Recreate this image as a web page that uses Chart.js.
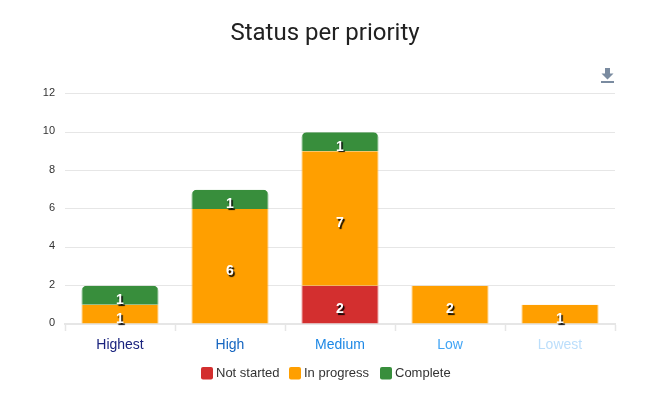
<!DOCTYPE html>
<html><head><meta charset="utf-8">
<style>html,body{margin:0;padding:0;background:#fff}#w{position:relative;width:649px;height:410px}canvas{display:block}
#dl{position:absolute;left:601px;top:68px;width:13px;height:15px}</style>
<script src="https://cdn.jsdelivr.net/npm/chart.js@4"></script></head>
<body><div id="w"><canvas id="c" width="649" height="410"></canvas>
<svg id="dl" viewBox="0 0 13 15"><path d="M4 0h5v5.5h3.5L6.5 11.5 .5 5.5H4z" fill="#7a8ba0"/><rect x="0" y="13" width="13" height="2" fill="#7a8ba0"/></svg></div>
<script>
const categories=["Highest","High","Medium","Low","Lowest"];
const categoryColors=["#1a237e","#1565c0","#1e88e5","#42a5f5","#bbdefb"];
const notStarted=[null,null,2,null,null];
const inProgress=[1,6,7,2,1];
const complete=[1,1,1,null,null];
const yTicks=[0,2,4,6,8,10,12];
const seriesColors=["#d32f2f","#ff9f00","#388e3c"];
const seriesEdges=["#dc5a5a","#ffb53f","#5fa563"];
const seriesNames=["Not started","In progress","Complete"];

const labelPlugin={id:"segLabels",afterDatasetsDraw(chart){
  const ctx=chart.ctx;
  chart.data.datasets.forEach((ds,i)=>{
    chart.getDatasetMeta(i).data.forEach((bar,j)=>{
      const v=ds.data[j]; if(v==null) return;
      const p=bar.getProps(["x","y","base"],true);
      ctx.save();
      ctx.font="bold 14px 'Liberation Sans'";
      ctx.textAlign="center";ctx.textBaseline="middle";
      ctx.fillStyle="#fff";
      ctx.shadowColor="rgba(0,0,0,0.95)";ctx.shadowOffsetX=1.5;ctx.shadowOffsetY=1.5;ctx.shadowBlur=1;
      ctx.fillText(String(v),p.x,(p.y+p.base)/2+5);
      ctx.restore();
    });
  });
}};
const legendPlugin={id:"bottomLegend",afterDraw(chart){
  const ctx=chart.ctx;
  const xs=[201,289,380],ty=373.5;
  ctx.save();
  ctx.font="13px 'Liberation Sans'";ctx.textBaseline="middle";ctx.textAlign="left";
  chart.data.datasets.forEach((ds,i)=>{
    ctx.fillStyle=ds.backgroundColor;
    ctx.beginPath();ctx.roundRect(xs[i],ty-6.5,12,12.5,2);ctx.fill();
    ctx.fillStyle="#333";
    ctx.fillText(ds.label,xs[i]+15,ty);
  });
  ctx.restore();
}};
new Chart(document.getElementById("c"),{
  type:"bar",
  data:{labels:categories,datasets:[
    {label:seriesNames[0],data:notStarted,backgroundColor:seriesColors[0],borderColor:seriesEdges[0],borderWidth:{left:1,right:1},borderSkipped:false},
    {label:seriesNames[1],data:inProgress,backgroundColor:seriesColors[1],borderColor:seriesEdges[1],borderWidth:{left:1,right:1},borderSkipped:false},
    {label:seriesNames[2],data:complete,backgroundColor:seriesColors[2],borderColor:seriesEdges[2],borderWidth:{left:1,right:1},borderSkipped:false,borderRadius:{topLeft:5,topRight:5,bottomLeft:0,bottomRight:0}}
  ]},
  options:{
    responsive:false,animation:false,
    layout:{padding:{left:1,right:0,top:0,bottom:0}},
    datasets:{bar:{categoryPercentage:1,barPercentage:0.7}},
    plugins:{
      legend:{display:false},tooltip:{enabled:false},
      title:{display:true,text:"Status per priority",color:"#212121",font:{family:"Roboto",size:24,weight:"normal"},padding:{top:20,bottom:45}}
    },
    scales:{
      x:{stacked:true,
        grid:{drawOnChartArea:false,drawTicks:true,tickLength:7,color:"#e6e6e6",tickWidth:1.5},
        border:{color:"#e6e6e6",width:2},
        ticks:{color:categoryColors,font:{family:"'Liberation Sans'",size:14},padding:6,maxRotation:0},
        afterFit(s){s.height=86;}
      },
      y:{stacked:true,min:0,max:12,
        afterBuildTicks(s){s.ticks=yTicks.map(v=>({value:v}));},
        grid:{color:"#e6e6e6",drawTicks:false},
        border:{display:false},
        ticks:{color:"#333",font:{family:"'Liberation Sans'",size:11},padding:10,labelOffset:-1},
        afterFit(s){s.width=64;}
      },
      rightGutter:{position:"right",display:true,min:0,max:12,
        grid:{display:false},border:{display:false},ticks:{display:false},
        afterFit(s){s.width=34;}
      }
    }
  },
  plugins:[labelPlugin,legendPlugin]
});
</script></body></html>
